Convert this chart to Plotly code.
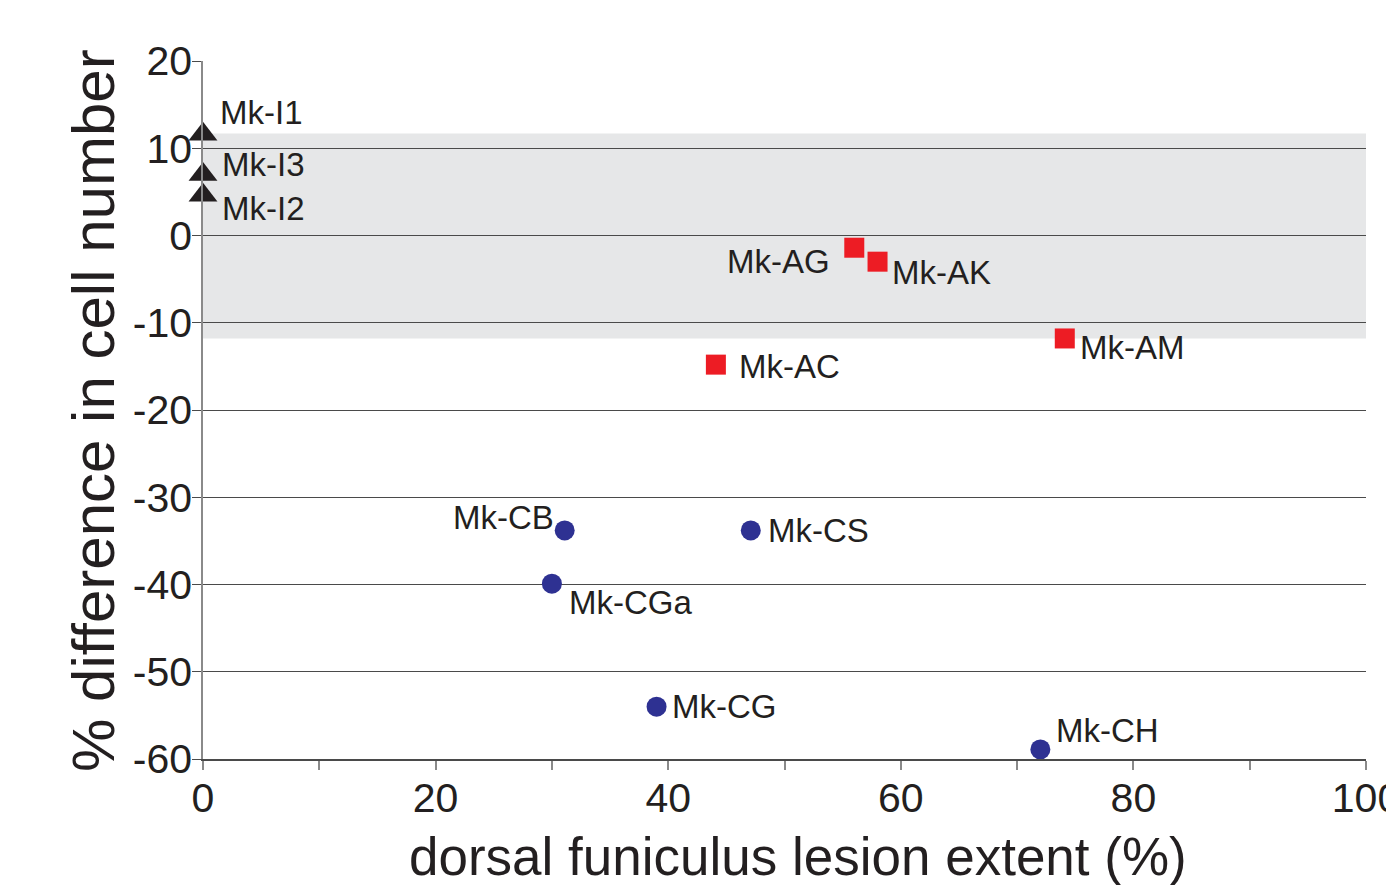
import plotly.graph_objects as go

FONT = "Liberation Sans, Arial, sans-serif"
TXT = "#231f20"

# Data
intact_names = ["Mk-I1", "Mk-I3", "Mk-I2"]
intact_x = [0, 0, 0]
intact_y = [11.6, 7.0, 4.6]

lat_names = ["Mk-AG", "Mk-AK", "Mk-AM", "Mk-AC"]
lat_x = [56.0, 58.0, 74.1, 44.1]
lat_y = [-1.4, -3.0, -11.8, -14.8]

dor_names = ["Mk-CB", "Mk-CS", "Mk-CGa", "Mk-CG", "Mk-CH"]
dor_x = [31.1, 47.1, 30.0, 39.0, 72.0]
dor_y = [-33.8, -33.8, -39.9, -54.0, -58.9]

band_low, band_high = -11.8, 11.7

x_ticks = [0, 20, 40, 60, 80, 100]
x_labels = ["0", "20", "40", "60", "80", "100"]
y_ticks = [20, 10, 0, -10, -20, -30, -40, -50, -60]
y_labels = ["20", "10", "0", "-10", "-20", "-30", "-40", "-50", "-60"]

# label offsets (pixels) and anchors
label_style = {
    "Mk-I1": (15, 22, "left"),
    "Mk-I3": (17, 10, "left"),
    "Mk-I2": (17, -13, "left"),
    "Mk-AG": (-22, -14, "right"),
    "Mk-AK": (12, -11, "left"),
    "Mk-AM": (13, -9, "left"),
    "Mk-AC": (21, -2, "left"),
    "Mk-CB": (-9, 13, "right"),
    "Mk-CS": (15, 0, "left"),
    "Mk-CGa": (15, -19, "left"),
    "Mk-CG": (13, 0, "left"),
    "Mk-CH": (14, 19, "left"),
}

fig = go.Figure()

fig.add_shape(type="rect", xref="x", yref="y", x0=0, x1=100, y0=band_low, y1=band_high,
              fillcolor="#e6e7e8", line_width=0, layer="below")

fig.add_trace(go.Scatter(x=intact_x, y=intact_y, mode="markers",
                         marker=dict(symbol="triangle-up", size=25, color="#231f20"),
                         cliponaxis=False, showlegend=False))
fig.add_trace(go.Scatter(x=lat_x, y=lat_y, mode="markers",
                         marker=dict(symbol="square", size=20, color="#ed1c24"),
                         cliponaxis=False, showlegend=False))
fig.add_trace(go.Scatter(x=dor_x, y=dor_y, mode="markers",
                         marker=dict(symbol="circle", size=20, color="#2e3192"),
                         cliponaxis=False, showlegend=False))

for names, xs, ys in [(intact_names, intact_x, intact_y), (lat_names, lat_x, lat_y),
                      (dor_names, dor_x, dor_y)]:
    for n, xv, yv in zip(names, xs, ys):
        dx, dy, anc = label_style[n]
        fig.add_annotation(x=xv, y=yv, xref="x", yref="y", text=n, showarrow=False,
                           xanchor=anc, yanchor="middle", xshift=dx, yshift=dy,
                           font=dict(family=FONT, size=33, color=TXT))

fig.add_annotation(text="dorsal funiculus lesion extent (%)", xref="paper", yref="paper",
                   x=0.5112, y=-0.1400, xanchor="center", yanchor="middle", showarrow=False,
                   font=dict(family=FONT, size=53, color=TXT))
fig.add_annotation(text="% difference in cell number", xref="paper", yref="paper",
                   x=-0.0946, y=0.5, xanchor="center", yanchor="middle", showarrow=False,
                   textangle=-90, font=dict(family=FONT, size=60, color=TXT))

fig.update_xaxes(range=[0, 100], tickvals=x_ticks, ticktext=x_labels, ticks="outside",
                 ticklen=9, tickwidth=1.5, tickcolor="#8a8a8a", showgrid=False, zeroline=False,
                 showline=True, linecolor="#4a4a4a", linewidth=1.5, automargin=False,
                 ticklabelstandoff=-7, ticklabeloverflow="allow",
                 minor=dict(dtick=10, tick0=0, ticks="outside", ticklen=9, tickwidth=1.5,
                            tickcolor="#8a8a8a", showgrid=False),
                 tickfont=dict(family=FONT, size=41, color=TXT))
fig.update_yaxes(range=[-60, 20], tickvals=y_ticks, ticktext=y_labels, ticks="outside",
                 ticklen=9, tickwidth=1.2, tickcolor="#4a4a4a", showgrid=True,
                 gridcolor="#4a4a4a", gridwidth=1.2, automargin=False,
                 zeroline=False, showline=True, linecolor="#8a8a8a", linewidth=1.5,
                 ticklabelstandoff=-8,
                 tickfont=dict(family=FONT, size=41, color=TXT))

fig.update_layout(width=1386, height=877, margin=dict(l=195, r=28, t=53, b=126),
                  plot_bgcolor="white", paper_bgcolor="white")

fig.write_html("out.html")
